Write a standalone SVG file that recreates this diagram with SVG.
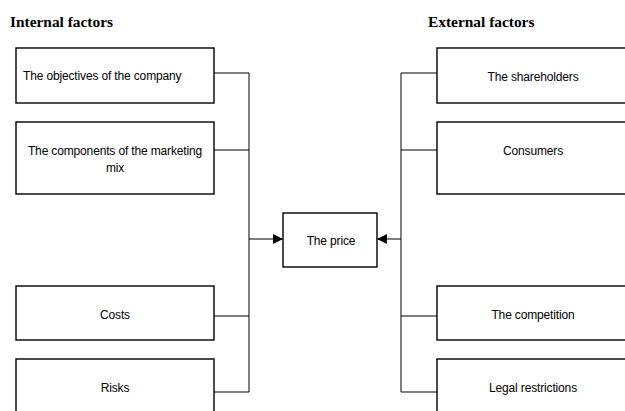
<svg xmlns="http://www.w3.org/2000/svg" width="625" height="411" viewBox="0 0 625 411">
<defs>
<style>
.box{fill:#fff;stroke:#000;stroke-width:1.4}
.lbl{font-family:"Liberation Sans",Arial,sans-serif;font-size:12px;fill:#000;text-anchor:middle;letter-spacing:-0.15px}
.hd{font-family:"Liberation Serif","Times New Roman",serif;font-size:15.4px;font-weight:bold;fill:#000}
.con{fill:none;stroke:#000;stroke-width:1}
</style>
<marker id="arr" markerWidth="10" markerHeight="10" viewBox="0 0 10 10" refX="10" refY="5" orient="auto" markerUnits="userSpaceOnUse">
<path d="M0,0 L10,5 L0,10 Z" fill="#000"/>
</marker>
</defs>
<rect width="625" height="411" fill="#fff"/>
<text class="hd" x="10" y="27">Internal factors</text>
<text class="hd" x="428" y="27">External factors</text>
<g id="connectors">
<path class="con" d="M214,73 H249 M214,150 H249 M214,316 H249 M214,392 H249 M249,73 V392"/>
<path class="con" d="M249,239 H283" marker-end="url(#arr)"/>
<path class="con" d="M437,73 H401 M437,150 H401 M437,316 H401 M437,392 H401 M401,73 V392"/>
<path class="con" d="M401,239 H377" marker-end="url(#arr)"/>
</g>
<g id="n-objectives"><rect class="box" x="16" y="48" width="198" height="55"/><text class="lbl" x="23" y="80" style="text-anchor:start">The objectives of the company</text></g>
<g id="n-components"><rect class="box" x="16" y="122" width="198" height="72"/><text class="lbl" x="115" y="155">The components of the marketing</text><text class="lbl" x="115" y="172">mix</text></g>
<g id="n-costs"><rect class="box" x="16" y="286" width="198" height="54"/><text class="lbl" x="115" y="319">Costs</text></g>
<g id="n-risks"><rect class="box" x="16" y="359" width="198" height="60"/><text class="lbl" x="115" y="392">Risks</text></g>
<g id="n-price"><rect class="box" x="283" y="213" width="94" height="54"/><text class="lbl" x="331" y="245">The price</text></g>
<g id="n-shareholders"><rect class="box" x="437" y="48" width="198" height="55"/><text class="lbl" x="533" y="81">The shareholders</text></g>
<g id="n-consumers"><rect class="box" x="437" y="122" width="198" height="72"/><text class="lbl" x="533" y="155">Consumers</text></g>
<g id="n-competition"><rect class="box" x="437" y="286" width="198" height="54"/><text class="lbl" x="533" y="319">The competition</text></g>
<g id="n-legal"><rect class="box" x="437" y="359" width="198" height="60"/><text class="lbl" x="533" y="392">Legal restrictions</text></g>
</svg>
